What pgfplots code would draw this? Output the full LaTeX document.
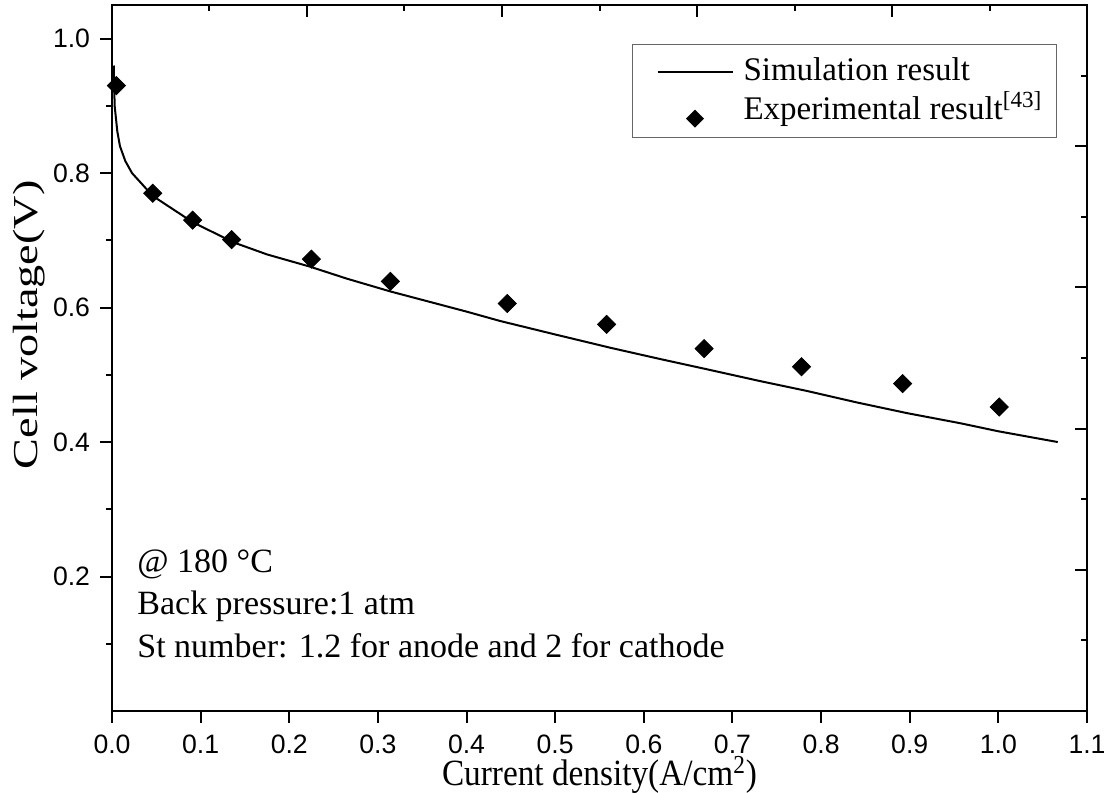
\documentclass[border=0pt]{standalone}
\usepackage{fontspec}
\setmainfont{Liberation Serif}
\newfontfamily\arialfont{Liberation Sans}
\usepackage{pgfplots}
\pgfplotsset{compat=1.18}

\pgfplotstableread{
x y
0.002 0.960
0.003 0.900
0.006 0.862
0.009 0.840
0.015 0.818
0.0226 0.800
0.046 0.766
0.091 0.727
0.137 0.697
0.175 0.679
0.223 0.661
0.265 0.643
0.314 0.624
0.400 0.594
0.438 0.580
0.500 0.560
0.563 0.540
0.620 0.523
0.672 0.508
0.730 0.491
0.784 0.476
0.840 0.459
0.897 0.443
0.957 0.428
1.000 0.416
1.067 0.400
}\simdata

\pgfplotstableread{
x y
0.005 0.930
0.046 0.770
0.091 0.730
0.135 0.701
0.225 0.672
0.314 0.639
0.446 0.606
0.558 0.575
0.668 0.539
0.778 0.512
0.892 0.487
1.001 0.452
}\expdata

\begin{document}
\begin{tikzpicture}
\begin{axis}[
  scale only axis, width=487.5pt, height=353pt,
  xmin=0, xmax=1.1, ymin=0, ymax=1.05,
  clip=false,
  axis line style={line width=1.1pt},
  xtick={0,0.1,0.2,0.3,0.4,0.5,0.6,0.7,0.8,0.9,1.0,1.1},
  ytick={0.2,0.4,0.6,0.8,1.0},
  minor ytick={0.1,0.3,0.5,0.7,0.9},
  xtick pos=left, ytick pos=left,
  tick align=outside,
  major tick length=5.8pt, minor tick length=3pt,
  tick style={line width=1pt, black},
  xticklabel style={font=\arialfont\fontsize{13.3}{16}\selectfont, inner sep=0pt, yshift=-6pt},
  yticklabel style={font=\arialfont\fontsize{13.3}{16}\selectfont, inner sep=0pt, xshift=-5pt},
  /pgf/number format/fixed, /pgf/number format/fixed zerofill,
  /pgf/number format/precision=1, /pgf/number format/assume math mode=true,
  xlabel={\scalebox{0.9}[1]{Current density(A/cm\textsuperscript{2})}},
  xlabel style={at={(axis description cs:0.5,-0.106)}, anchor=base, font=\fontsize{18.5}{22}\selectfont},
  ylabel={\scalebox{1.32}[1]{Cell voltage(V)}},
  ylabel style={at={(axis description cs:-0.0769,0.547)}, anchor=base, font=\fontsize{17.5}{21}\selectfont},
  legend style={at={(axis description cs:0.9692,0.9448)}, anchor=north east,
    draw=black!60, line width=0.6pt, inner xsep=7pt, inner ysep=4pt,
    row sep=0.5pt, column sep=5pt,
    font=\fontsize{16.5}{19}\selectfont,
    nodes={inner xsep=0pt, inner ysep=0pt, text height=14pt, text depth=5pt}},
  legend cell align=left,
]
\addplot[black, line width=1pt,
  legend image code/.code={
    \path[draw=none] (0pt,0pt) -- (43pt,0pt);
    \draw[black, line width=1pt] (5.5pt,0pt) -- (43pt,0pt);
  }] table[x=x, y=y] {\simdata};
\addlegendentry{Simulation result}
\addplot[only marks, mark=square*, mark size=3.2pt, mark options={rotate=45, black, fill=black},
  legend image code/.code={
    \path[draw=none] (0pt,0pt) -- (43pt,0pt);
    \path[draw=none, fill=black] (24.25pt,-8.5pt) -- (28.75pt,-4pt) -- (24.25pt,0.5pt) -- (19.75pt,-4pt) -- cycle;
  }] table[x=x, y=y] {\expdata};
\addlegendentry{Experimental result\textsuperscript{[43]}}

\node[anchor=base west, inner sep=0pt, font=\fontsize{17}{20}\selectfont] at (axis cs:0.0282,0.206) {@ 180 °C};
\node[anchor=base west, inner sep=0pt, font=\fontsize{17}{20}\selectfont] at (axis cs:0.0282,0.143) {Back pressure:1 atm};
\node[anchor=base west, inner sep=0pt, font=\fontsize{17}{20}\selectfont] at (axis cs:0.0282,0.079) {St number: 1.2 for anode and 2 for cathode};

\coordinate (bl) at (rel axis cs:0,0);
\coordinate (tr) at (rel axis cs:1,1);
\end{axis}
\begin{axis}[
  scale only axis, width=487.5pt, height=353pt,
  xmin=0, xmax=1, ymin=0, ymax=1,
  axis line style={draw=none},
  xtick={0,0.2,0.4,0.6,0.8,1.0},
  minor xtick={0.1,0.3,0.5,0.7,0.9},
  ytick={0,0.2,0.4,0.6,0.8,1.0},
  minor ytick={0.1,0.3,0.5,0.7,0.9},
  xtick pos=right, ytick pos=right,
  tick align=inside,
  xticklabels={}, yticklabels={},
  major tick length=6pt, minor tick length=3pt,
  tick style={line width=1pt, black},
]
\end{axis}
\pgfresetboundingbox
\path ([shift={(-56pt,-41pt)}]bl) rectangle ([shift={(11.5pt,2.5pt)}]tr);
\end{tikzpicture}
\end{document}
